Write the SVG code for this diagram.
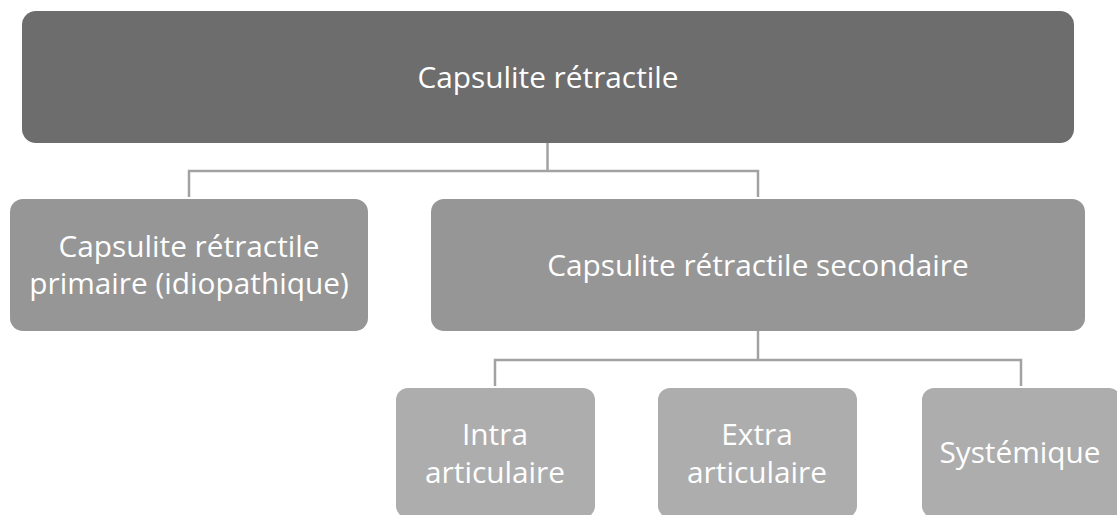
<svg xmlns="http://www.w3.org/2000/svg" width="1117" height="515" viewBox="0 0 1117 515">
<style>
.t{font-family:"Open Sans","Noto Sans",sans-serif;fill:#ffffff;text-anchor:middle;font-size:29.8px}
.c{fill:none;stroke:#a2a2a2;stroke-width:2.5}
</style>
<rect width="1117" height="515" fill="#ffffff"/>
<g id="connectors">
<path class="c" d="M547.5 143 V171 M189 197 V171 H758 V197"/>
<path class="c" d="M758 331 V360 M495 386 V360 H1021 V386"/>
</g>
<g id="root">
<rect x="22" y="11" width="1052" height="132" rx="14" fill="#6d6d6d"/>
<text class="t" x="548" y="88">Capsulite rétractile</text>
</g>
<g id="primary">
<rect x="10" y="199" width="358" height="132" rx="13" fill="#969696"/>
<text class="t" x="189" y="257">Capsulite rétractile</text>
<text class="t" x="189" y="294">primaire (idiopathique)</text>
</g>
<g id="secondary">
<rect x="431" y="199" width="654" height="132" rx="13" fill="#969696"/>
<text class="t" x="758" y="276">Capsulite rétractile secondaire</text>
</g>
<g id="intra">
<rect x="396" y="388" width="199" height="130" rx="12" fill="#adadad"/>
<text class="t" x="495" y="445">Intra</text>
<text class="t" x="495" y="483">articulaire</text>
</g>
<g id="extra">
<rect x="658" y="388" width="199" height="130" rx="12" fill="#adadad"/>
<text class="t" x="757" y="445">Extra</text>
<text class="t" x="757" y="483">articulaire</text>
</g>
<g id="systemique">
<rect x="922" y="388" width="199" height="130" rx="12" fill="#adadad"/>
<text class="t" x="1020" y="463">Systémique</text>
</g>
</svg>
